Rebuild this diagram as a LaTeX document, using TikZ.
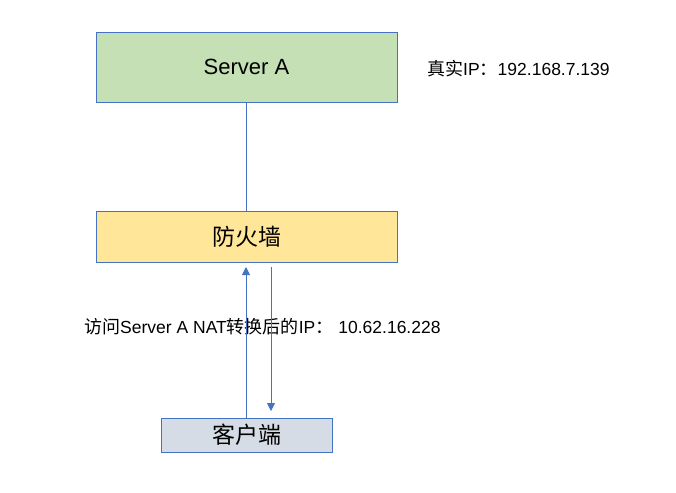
\documentclass[tikz,border=0pt]{standalone}
\usepackage{fontspec}
\setmainfont{Liberation Sans}
\newfontfamily\cjk{Noto Sans CJK SC}
\usetikzlibrary{arrows.meta}
\definecolor{edge}{HTML}{4472C4}
\definecolor{green1}{HTML}{C5E0B4}
\definecolor{yellow1}{HTML}{FFE699}
\definecolor{gray1}{HTML}{D6DCE5}
\newcommand{\zh}[1]{{\fontsize{18pt}{20pt}\selectfont\cjk #1}}
\tikzset{
  boxs/.style={draw=edge, line width=0.9pt, inner sep=0pt},
  conn/.style={draw=edge, line width=0.9pt},
  arr/.style={conn, -{Triangle[length=8pt,width=8pt]}},
  lbl/.style={anchor=west, inner sep=0pt, font=\fontsize{17.5pt}{20pt}\selectfont}
}
\begin{document}
\begin{tikzpicture}[x=1pt,y=-1pt]
\useasboundingbox (0,0) rectangle (676,492);
\fill[white] (0,0) rectangle (676,492);
\node[boxs, fill=green1, minimum width=301pt, minimum height=70pt, font=\fontsize{22pt}{26pt}\selectfont] (srv) at (246.5,67) {Server A};
\node[boxs, fill=yellow1, minimum width=301pt, minimum height=51pt, font=\fontsize{23pt}{26pt}\selectfont\cjk] (fw) at (246.5,236.5) {防火墙};
\node[boxs, fill=gray1, minimum width=171pt, minimum height=34pt, font=\fontsize{23pt}{26pt}\selectfont\cjk] (cl) at (246.5,435) {客户端};
\node[lbl] (ip1) at (427,69) {\zh{真实}IP\zh{：}192.168.7.139};
\node[lbl] (ip2) at (84,327) {\zh{访问}Server A NAT\zh{转换后的}IP\zh{：}\hspace{5pt}10.62.16.228};
\draw[conn] (srv.south) -- (fw.north);
\coordinate (upS) at (246,418);
\coordinate (upE) at (246,267);
\coordinate (dnS) at (271,267);
\coordinate (dnE) at (271,411);
\draw[arr] (cl.north -| upS) -- (upE);
\draw[arr] (dnS) -- (dnE);
\end{tikzpicture}
\end{document}
